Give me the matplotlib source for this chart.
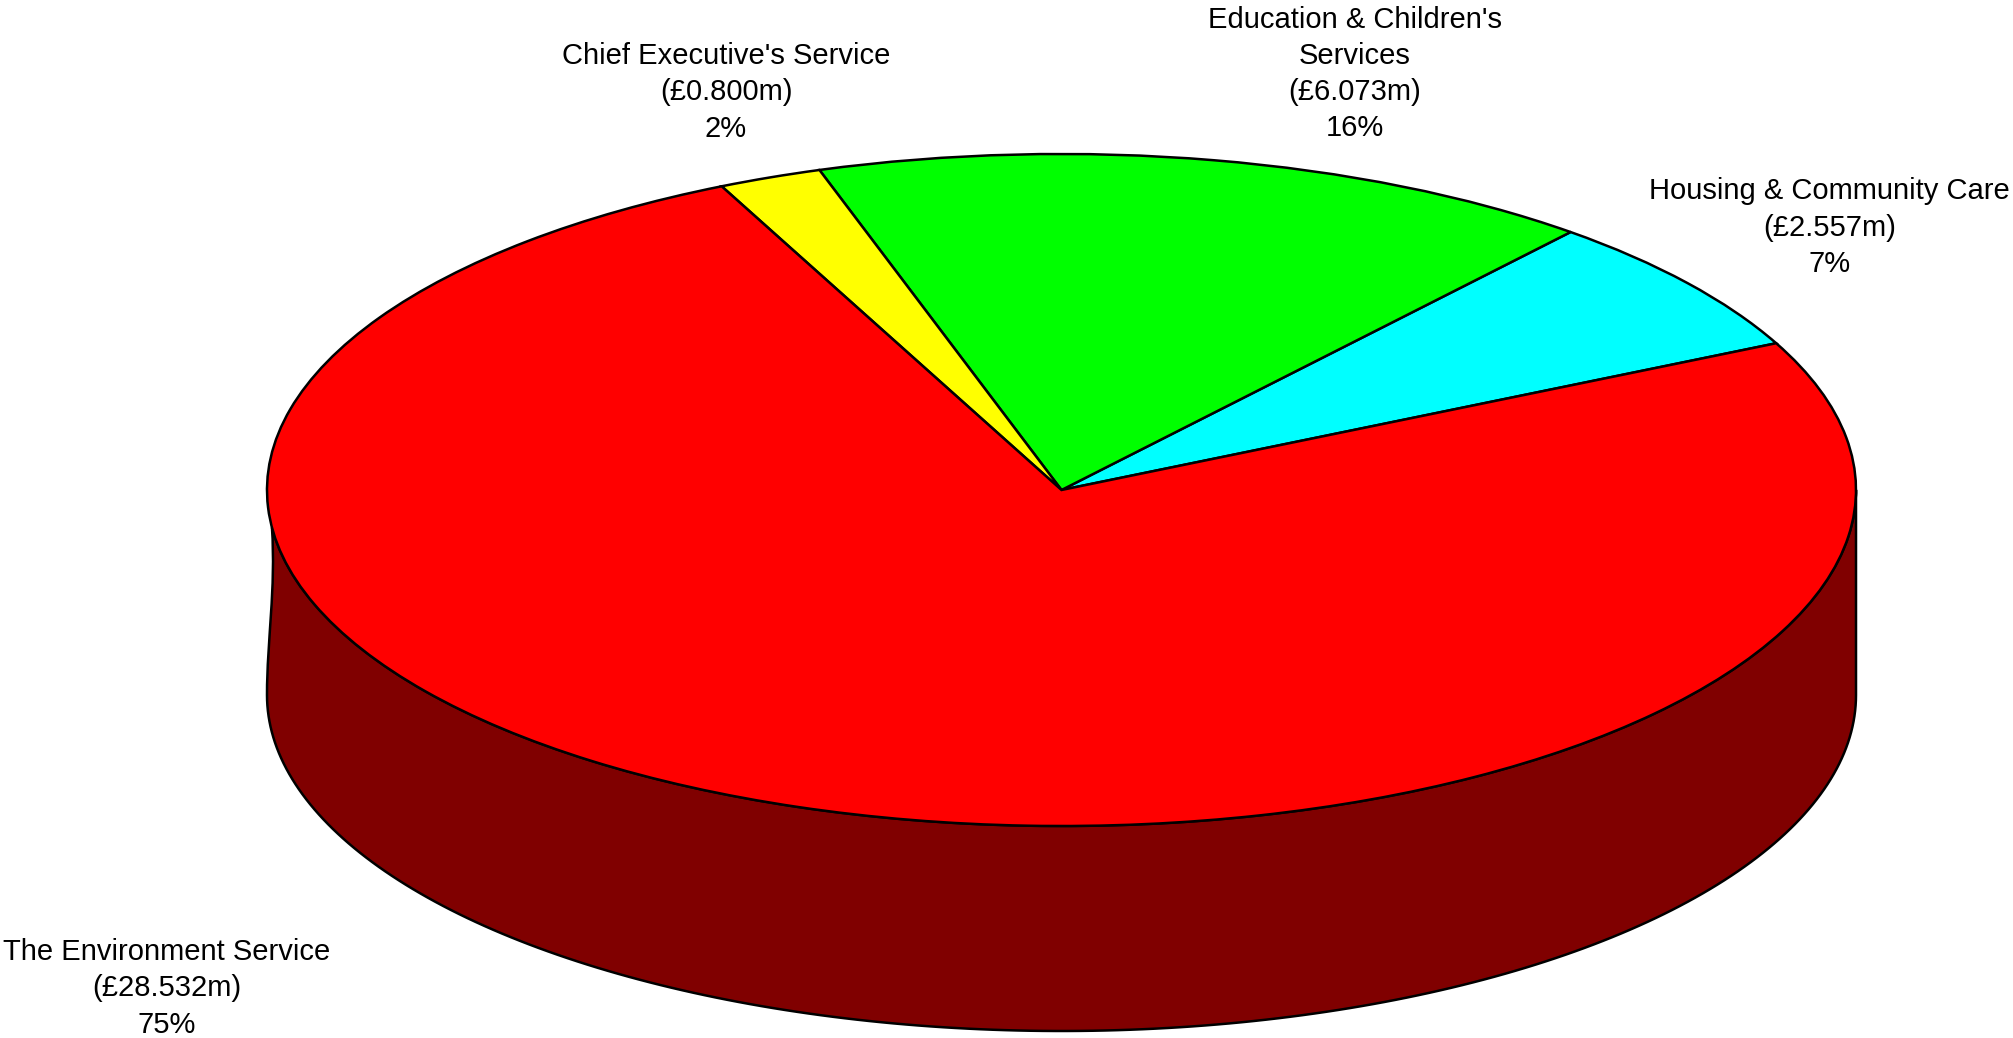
import matplotlib
matplotlib.use("Agg")
import matplotlib.pyplot as plt
import numpy as np
from matplotlib.path import Path
from matplotlib.patches import PathPatch

plt.rcParams['font.family'] = ['Liberation Sans', 'DejaVu Sans']

# anticlockwise from the start angle
services = ["Housing & Community Care", "Education & Children's\nServices",
            "Chief Executive's Service", "The Environment Service"]
budget_m = [2.557, 6.073, 0.800, 28.532]
colours = ["#00ffff", "#00ff00", "#ffff00", "#ff0000"]
label_px = [(1829.5, 227.5), (1355, 74), (726, 92.5), (166.5, 988.5)]

W, H = 2013, 1038
CX, CY = 1061.5, 490      # pie centre, pixels
RX, RY = 794.5, 336       # ellipse radii, pixels
DEPTH = 205 / RY          # wall height in units of the y radius
START = 25.9
LW = 1.8

fig = plt.figure(figsize=(W / 100, H / 100), dpi=100)
ax = fig.add_axes([0, 0, 1, 1])

ax.pie(budget_m, colors=colours, startangle=START, counterclock=True,
       wedgeprops=dict(edgecolor="black", linewidth=LW, zorder=3))
# pie forces a round aspect, the tilted disc needs it squashed
ax.set_aspect("auto")
ax.set_xlim(-CX / RX, (W - CX) / RX)
ax.set_ylim(-(H - CY) / RY, CY / RY)


def px(x, y):
    return (x - CX) / RX, (CY - y) / RY


# side wall: front half of the disc pushed down, left edge slightly pinched
t_top = np.radians(np.linspace(186.4, 360, 200))
t_bot = np.radians(np.linspace(360, 180, 200))
top = np.column_stack([np.cos(t_top), np.sin(t_top)])
bot = np.column_stack([np.cos(t_bot), np.sin(t_bot) - DEPTH])
pinch = [px(267, 640), px(276, 590), tuple(top[0])]
verts = np.vstack([top, bot, pinch])
codes = ([Path.MOVETO] + [Path.LINETO] * (len(top) + len(bot) - 1)
         + [Path.CURVE4] * 3)
ax.add_patch(PathPatch(Path(verts, codes), facecolor="#800000", edgecolor="black",
                       linewidth=LW, zorder=1, joinstyle="round"))

total = sum(budget_m)
for name, val, (x, y) in zip(services, budget_m, label_px):
    ax.text(*px(x, y), f"{name}\n(£{val:.3f}m)\n{val / total * 100:.0f}%",
            ha="center", va="center", fontsize=21, color="black",
            linespacing=1.375, zorder=5)

fig.savefig("out.png", dpi=100, facecolor="white")
